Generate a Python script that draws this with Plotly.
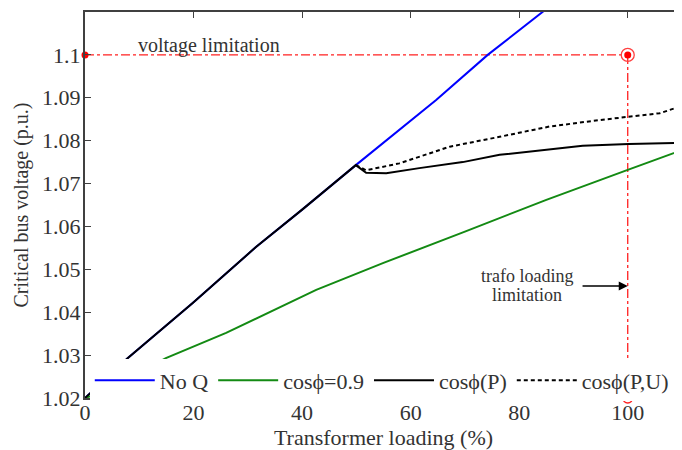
import plotly.graph_objects as go

# ---- data ----
x_noq = [0, 7.9, 19.9, 31.5, 39.9, 49.9, 64.7, 74.2, 84.3, 86.0]
y_noq = [1.0200, 1.0293, 1.0422, 1.0552, 1.0638, 1.0743, 1.0895, 1.1000, 1.1100, 1.1118]

x_pf09 = [0, 3.3, 14.9, 26.0, 42.6, 55.0, 70.0, 85.0, 100.0, 110.0]
y_pf09 = [1.0200, 1.0214, 1.0293, 1.0352, 1.0452, 1.0515, 1.0588, 1.0662, 1.0732, 1.0778]

x_cosp = [0, 7.9, 19.9, 31.5, 39.9, 49.9, 51.8, 55.5, 61.6, 69.6, 76.4, 83.8, 91.7, 100.2, 105.9, 110.0]
y_cosp = [1.0200, 1.0293, 1.0422, 1.0552, 1.0638, 1.0743, 1.0725, 1.0724, 1.0736, 1.0750, 1.0767, 1.0778, 1.0788, 1.0792, 1.0794, 1.0795]

x_cospu = [49.9, 51.8, 57.9, 67.2, 76.4, 85.6, 94.8, 100.2, 105.9, 110.0]
y_cospu = [1.0743, 1.0731, 1.0747, 1.0786, 1.0809, 1.0833, 1.0848, 1.0856, 1.0864, 1.0881]

v_limit = 1.10
load_limit = 100
x_ticks = [0, 20, 40, 60, 80, 100]
y_ticks = [1.02, 1.03, 1.04, 1.05, 1.06, 1.07, 1.08, 1.09, 1.10, 1.11]
y_tick_text = ["1.02", "1.03", "1.04", "1.05", "1.06", "1.07", "1.08", "1.09", "1.1", "1.11"]

FONT = "Liberation Serif"
AX = "#404040"
TXT = "#333333"

fig = go.Figure()

# red limitation lines
fig.add_trace(go.Scatter(x=[0, load_limit], y=[v_limit, v_limit], mode="lines",
                         line=dict(color="#ff2020", width=1.3, dash="dashdot"),
                         showlegend=False, hoverinfo="skip"))
fig.add_trace(go.Scatter(x=[load_limit, load_limit], y=[v_limit, 1.02], mode="lines",
                         line=dict(color="#ff2020", width=1.3, dash="dashdot"),
                         showlegend=False, hoverinfo="skip"))

fig.add_trace(go.Scatter(x=x_noq, y=y_noq, mode="lines", name="No Q",
                         line=dict(color="#0000ff", width=2)))
fig.add_trace(go.Scatter(x=x_pf09, y=y_pf09, mode="lines", name="cosϕ=0.9",
                         line=dict(color="#138a13", width=2)))
fig.add_trace(go.Scatter(x=x_cosp, y=y_cosp, mode="lines", name="cosϕ(P)",
                         line=dict(color="#000000", width=2)))
fig.add_trace(go.Scatter(x=x_cospu, y=y_cospu, mode="lines", name="cosϕ(P,U)",
                         line=dict(color="#000000", width=2, dash="4px,3px")))

# red markers
fig.add_trace(go.Scatter(x=[0, load_limit], y=[v_limit, v_limit], mode="markers",
                         marker=dict(color="#ff0000", size=7, symbol="circle"),
                         cliponaxis=False, showlegend=False, hoverinfo="skip"))
fig.add_trace(go.Scatter(x=[load_limit], y=[v_limit], mode="markers",
                         marker=dict(color="#ff4040", size=13, symbol="circle-open", line=dict(width=1.3)),
                         cliponaxis=False, showlegend=False, hoverinfo="skip"))
fig.add_trace(go.Scatter(x=[load_limit], y=[1.02], mode="markers",
                         marker=dict(color="#ff2020", size=10, symbol="circle-open", line=dict(width=1.3)),
                         cliponaxis=False, showlegend=False, hoverinfo="skip"))

fig.add_annotation(x=22.9, y=1.1021, text="voltage limitation", showarrow=False,
                   font=dict(family=FONT, size=20, color=TXT))
fig.add_annotation(x=81.4, y=1.0484, text="trafo loading", showarrow=False,
                   font=dict(family=FONT, size=18, color=TXT))
fig.add_annotation(x=81.4, y=1.0441, text="limitation", showarrow=False,
                   font=dict(family=FONT, size=18, color=TXT))
fig.add_annotation(x=load_limit, y=1.0461, ax=91.4, ay=1.0461, axref="x", ayref="y",
                   text="", showarrow=True,
                   arrowhead=2, arrowsize=1.2, arrowwidth=1.5, arrowcolor="#000")

# the page body adds an 8px offset; margins compensate for it
fig.update_layout(
    width=682, height=450,
    margin=dict(l=77, r=8, t=4, b=60),
    paper_bgcolor="white", plot_bgcolor="white",
    font=dict(family=FONT, size=21, color=TXT),
    showlegend=True,
    legend=dict(orientation="h", x=0.008, y=0.1, xanchor="left", yanchor="top",
                bgcolor="white", borderwidth=0, itemwidth=60,
                font=dict(family=FONT, size=22, color=TXT), tracegroupgap=0),
)
fig.update_xaxes(range=[0, 110], tickvals=x_ticks, ticks="inside", ticklen=6,
                 tickcolor=AX, showline=True, linecolor=AX, linewidth=2, mirror="ticks",
                 showgrid=False, zeroline=False, automargin=False, ticklabelstandoff=-6,
                 title=dict(text="Transformer loading (%)", standoff=0,
                            font=dict(family=FONT, size=22, color=TXT)),
                 tickfont=dict(family=FONT, size=22, color=TXT))
fig.update_yaxes(range=[1.02, 1.11], tickvals=y_ticks, ticktext=y_tick_text, ticks="inside", ticklen=6,
                 tickcolor=AX, showline=True, linecolor=AX, linewidth=2, mirror="ticks",
                 showgrid=False, zeroline=False, automargin=False, ticklabelstandoff=-2,
                 title=dict(text="Critical bus voltage (p.u.)", standoff=8,
                            font=dict(family=FONT, size=20, color=TXT)),
                 tickfont=dict(family=FONT, size=22, color=TXT))

fig.write_html("out.html")
